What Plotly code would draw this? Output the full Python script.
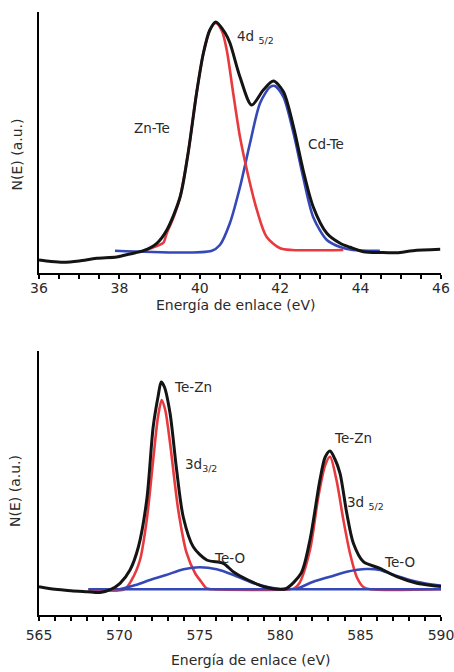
import plotly.graph_objects as go

# ---------- top panel (Te 4d) ----------
top_black_x = [36.0, 36.3, 36.6, 37.0, 37.43, 37.93, 38.26, 38.6, 38.93, 39.18, 39.51, 39.71, 39.92,
               40.09, 40.25, 40.40, 40.63, 40.75, 41.0, 41.29, 41.58, 41.83, 42.08, 42.33, 42.57,
               42.82, 43.16, 43.49, 43.74, 44.07, 44.5, 44.9, 45.3, 45.98]
top_black_y = [13, 11.5, 10.7, 12, 14.7, 16, 19, 22.3, 29.7, 43, 76, 120, 180,
               220, 243, 251, 240, 230, 196, 168, 183, 192, 181.3, 146.3, 103,
               66.3, 39.7, 29.7, 25.7, 21.3, 20.5, 20.3, 22.3, 23.7]

top_red_x = [38.65, 38.9, 39.09, 39.18, 39.35, 39.51, 39.71, 39.92, 40.09, 40.25, 40.40, 40.55,
             40.67, 40.83, 41.0, 41.21, 41.42, 41.66, 42.0, 42.3, 43.57]
top_red_y = [23, 26.5, 30, 40, 56, 76, 120, 180, 220, 243, 250, 242,
             223, 180, 136, 96.3, 63, 36.3, 24.7, 23, 23]

top_blue_x = [37.89, 40.3, 40.5, 40.75, 41.0, 41.25, 41.5, 41.75, 41.87, 42.08, 42.33, 42.57,
              42.82, 43.16, 43.49, 43.8, 44.48]
top_blue_y = [22.3, 22.3, 28, 50, 86, 130, 170, 186, 187, 176, 140, 96,
              56, 33, 26, 23, 22.3]

# ---------- bottom panel (Te 3d) ----------
bot_black_x = [565.0, 566.0, 567.0, 568.0, 568.8, 569.4, 570.04, 570.66, 571.18, 571.7, 572.1,
               572.4, 572.6, 572.8, 573.15, 573.56, 573.97, 574.6, 575.43, 576.46, 577.1, 578.0,
               579.0, 580.0, 580.4, 581.3, 581.85, 582.47, 582.8, 583.1, 583.4, 583.72, 584.14,
               584.55, 585.17, 586.2, 587.25, 588.5, 589.7, 590.0]
bot_black_y = [28.3, 25.7, 24.3, 23.3, 22.5, 25, 31.7, 45, 68, 115, 188,
               218, 233, 228, 201.7, 145, 98, 68, 55, 51.7, 43, 35,
               28.3, 25.7, 26.7, 41.7, 75, 135, 158, 164, 156, 141.7, 101.7,
               71.7, 53.3, 46.7, 38.3, 31.7, 29, 28.5]

bot_red_x = [568.07, 570.3, 570.76, 571.28, 571.7, 572.1, 572.4, 572.63, 572.85, 573.15, 573.66,
             574.18, 574.7, 575.1, 575.43, 575.8, 580.6, 580.9, 581.2, 581.85, 582.37, 582.8,
             583.1, 583.5, 583.93, 584.34, 584.76, 585.17, 585.6, 590.0]
bot_red_y = [25.7, 25.7, 35, 55, 95, 155, 198, 215, 205, 172, 105,
             62, 42, 33, 26.5, 25.7, 25.7, 27, 32, 65, 118, 150,
             158.3, 135, 95, 61.7, 38, 28, 25.7, 25.7]

bot_base_x = [568.07, 590.0]
bot_base_y = [25.7, 25.7]

bot_teo1_x = [570.0, 571.0, 571.9, 572.9, 574.0, 575.0, 576.05, 577.1, 578.1, 579.15, 580.0]
bot_teo1_y = [25.7, 30, 35, 40, 45.7, 47.7, 45.7, 40, 33.3, 28.3, 25.7]

bot_teo2_x = [581.0, 582.06, 583.1, 584.14, 585.38, 586.2, 587.25, 588.5, 589.7, 590.0]
bot_teo2_y = [25.7, 33.3, 38.3, 43.3, 46, 45, 39, 33.3, 30, 29.5]

top_ticks = [36, 38, 40, 42, 44, 46]
bot_ticks = [565, 570, 575, 580, 585, 590]

RED = "rgb(232,58,62)"
BLUE = "rgb(52,72,184)"
BLACK = "rgb(20,20,20)"
FONT = "DejaVu Sans"
TXT = "#2a2a2a"

fig = go.Figure()

def line(x, y, color, width, xa, ya):
    fig.add_trace(go.Scatter(x=x, y=y, mode="lines", xaxis=xa, yaxis=ya,
                             line=dict(color=color, width=width, shape="spline", smoothing=0.8),
                             hoverinfo="skip", showlegend=False))

line(top_blue_x, top_blue_y, BLUE, 2.6, "x", "y")
line(top_red_x, top_red_y, RED, 2.6, "x", "y")
line(top_black_x, top_black_y, BLACK, 3, "x", "y")

line(bot_red_x, bot_red_y, RED, 2.6, "x2", "y2")
line(bot_base_x, bot_base_y, BLUE, 2.6, "x2", "y2")
line(bot_teo1_x, bot_teo1_y, BLUE, 2.6, "x2", "y2")
line(bot_teo2_x, bot_teo2_y, BLUE, 2.6, "x2", "y2")
line(bot_black_x, bot_black_y, BLACK, 3, "x2", "y2")

xcommon = dict(showline=True, linecolor="black", linewidth=2, showgrid=False, zeroline=False,
               ticks="outside", ticklen=4, tickwidth=1.5, tickcolor="black", automargin=False,
               ticklabeloverflow="allow",
               tickfont=dict(family=FONT, size=14, color=TXT))
ycommon = dict(showline=True, linecolor="black", linewidth=2, showgrid=False, zeroline=False,
               showticklabels=False, ticks="", automargin=False)

fig.update_layout(
    width=454, height=672, autosize=False,
    margin=dict(l=39, r=13, t=12, b=57, autoexpand=False),
    paper_bgcolor="white", plot_bgcolor="white",
    font=dict(family=FONT, size=14, color=TXT),
    xaxis=dict(anchor="y", domain=[0, 1], range=[36, 46], tickvals=top_ticks,
               ticklabelstandoff=-3,
               minor=dict(dtick=0.5, ticks="outside", ticklen=4, tickwidth=1.5, tickcolor="black"),
               **xcommon),
    yaxis=dict(anchor="x", domain=[0.5672, 1], range=[0, 261], **ycommon),
    xaxis2=dict(anchor="y2", domain=[0, 1], range=[565, 590], tickvals=bot_ticks,
                ticklabelstandoff=2,
                minor=dict(dtick=1, ticks="outside", ticklen=4, tickwidth=1.5, tickcolor="black"),
                **xcommon),
    yaxis2=dict(anchor="x2", domain=[0, 0.4378], range=[0, 264], **ycommon),
)

def ann(text, x, y, xa, ya, xanchor="center", size=13.5):
    fig.add_annotation(text=text, x=x, y=y, xref=xa, yref=ya, showarrow=False,
                       xanchor=xanchor, yanchor="middle",
                       font=dict(family=FONT, size=size, color=TXT))

ann("4d <sub>5/2</sub>", 40.876, 236, "x", "y", xanchor="left")
ann("Zn-Te", 38.81, 145, "x", "y")
ann("Cd-Te", 43.13, 129, "x", "y")

ann("Te-Zn", 574.58, 228, "x2", "y2")
ann("3d<sub>3/2</sub>", 573.96, 150, "x2", "y2", xanchor="left")
ann("Te-O", 576.82, 57.3, "x2", "y2")
ann("Te-Zn", 584.53, 177, "x2", "y2")
ann("3d <sub>5/2</sub>", 584.03, 112, "x2", "y2", xanchor="left")
ann("Te-O", 587.39, 53, "x2", "y2")

# axis titles
def title(text, x, y, angle=0):
    fig.add_annotation(text=text, x=x, y=y, xref="paper", yref="paper", showarrow=False,
                       xanchor="center", yanchor="middle", textangle=angle,
                       font=dict(family=FONT, size=14, color=TXT))

title("Energía de enlace (eV)", 0.4876, 0.5145)
title("Energía de enlace (eV)", 0.527, -0.0746)
title("N(E) (a.u.)", -0.0535, 0.7645, -90)
title("N(E) (a.u.)", -0.0597, 0.2056, -90)

fig.write_html("out.html", config={"responsive": False, "displayModeBar": False},
               post_script="document.body.style.margin='0';document.body.style.overflow='hidden';")
